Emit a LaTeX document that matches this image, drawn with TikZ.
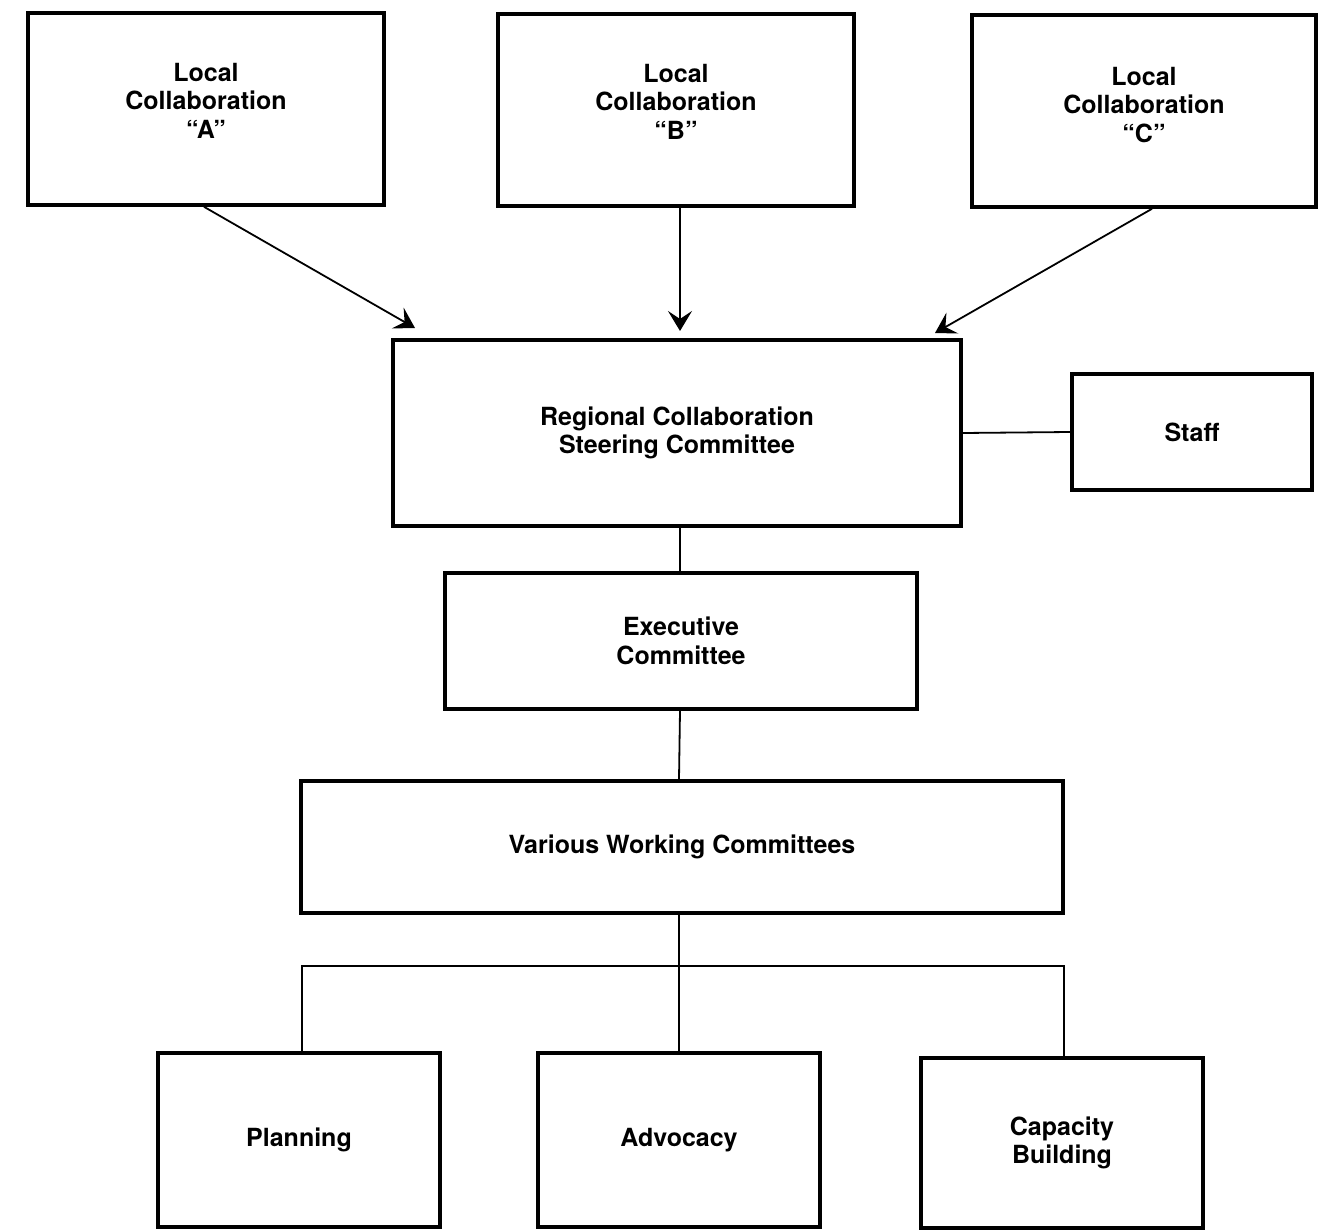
\documentclass[tikz,border=0pt]{standalone}
\usepackage{fontspec}
\setmainfont{TeX Gyre Heros}
\usepackage{tikz}
\usetikzlibrary{arrows.meta,positioning}

\begin{document}
\begin{tikzpicture}[
  x=0.5pt, y=-0.5pt,
  font=\fontsize{12.5}{14.25}\selectfont\bfseries,
  box/.style={draw, line width=1.8pt, align=center, inner sep=0pt},
  local/.style={box, minimum width=178pt, minimum height=96pt},
  bottombox/.style={box, minimum width=141pt, minimum height=87pt},
  link/.style={line width=0.9pt},
  arrow/.style={link, -{Stealth[length=10pt, width=12pt, inset=4pt]}}
]
\useasboundingbox (0,0) rectangle (1318,1230);

% local collaborations
\node[local] (la) at (206,109) {Local\\Collaboration\\“A”\\[-6pt]};
\node[local] (lb) at (676,110) {Local\\Collaboration\\“B”\\[-6pt]};
\node[local, minimum width=172pt] (lc) at (1144,111) {Local\\Collaboration\\“C”\\[-8pt]};

% steering committee and staff
\node[box, minimum width=284pt, minimum height=93pt] (reg) at (677,433) {Regional Collaboration\\Steering Committee};
\node[box, minimum width=120pt, minimum height=58pt] (staff) at (1192,432) {Staff};

\node[box, minimum width=236pt, minimum height=68pt] (exec) at (681,641) {Executive\\Committee};
\node[box, minimum width=381pt, minimum height=66pt] (work) at (682,847) {Various Working Committees};

% working committees
\node[bottombox] (plan) at (299,1140) {Planning};
\node[bottombox] (adv) at (679,1140) {Advocacy};
\node[bottombox, minimum height=85pt] (cap) at (1062,1143) {Capacity\\Building};

\coordinate (ta) at (415,328);
\coordinate (tb) at (680,331);
\coordinate (tc) at (935,333);
\coordinate (bus) at (679,966);

\draw[arrow] ([xshift=-1pt]la.south) -- (ta);
\draw[arrow] ([xshift=2pt]lb.south) -- (tb);
\draw[arrow] ([xshift=4pt]lc.south) -- (tc);

\draw[link] (reg.east) -- (staff.west);
\draw[link] ([xshift=1.5pt]reg.south) -- ([xshift=-0.5pt]exec.north);
\draw[link] ([xshift=-0.5pt]exec.south) -- ([xshift=-1.5pt]work.north);
\draw[link] ([xshift=-1.5pt]work.south) -- (bus);
\draw[link] (bus) -| ([xshift=1.5pt]plan.north);
\draw[link] (bus) -- (adv.north);
\draw[link] (bus) -| ([xshift=1pt]cap.north);

\end{tikzpicture}
\end{document}
